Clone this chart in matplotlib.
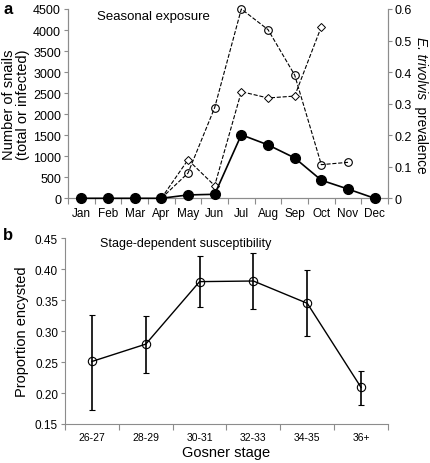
import numpy as np
import matplotlib
matplotlib.use('Agg')
import matplotlib.pyplot as plt

plt.rcParams['font.family'] = ['Liberation Sans', 'DejaVu Sans']

# Panel a data
months = ['Jan', 'Feb', 'Mar', 'Apr', 'May', 'Jun', 'Jul', 'Aug', 'Sep', 'Oct', 'Nov', 'Dec']
infected = [0, 0, 0, 0, 80, 95, 1510, 1270, 960, 430, 220, 0]
total_months = ['Apr', 'May', 'Jun', 'Jul', 'Aug', 'Sep', 'Oct', 'Nov']
total = [0, 600, 2155, 4500, 4010, 2930, 800, 855]
prev_months = ['Apr', 'May', 'Jun', 'Jul', 'Aug', 'Sep', 'Oct']
prevalence = [0, 0.122, 0.040, 0.338, 0.318, 0.324, 0.544]

# Panel b data
stages = ['26-27', '28-29', '30-31', '32-33', '34-35', '36+']
proportion = [0.251, 0.279, 0.380, 0.381, 0.345, 0.209]
err_low = [0.173, 0.232, 0.339, 0.335, 0.292, 0.181]
err_high = [0.326, 0.325, 0.422, 0.426, 0.398, 0.236]

grey = '#8c8c8c'

fig = plt.figure(figsize=(4.30, 4.64), dpi=100)

# ---- panel a ----
ax = fig.add_axes([68/430, 1-199.3/464, 320/430, 189.3/464])
ax2 = ax.twinx()
x = np.arange(len(months))
idx = {m: i for i, m in enumerate(months)}
xt = [idx[m] for m in total_months]
xp = [idx[m] for m in prev_months]

ax.plot(xt, total, ls='--', color='black', lw=0.8, marker='o', ms=5.5,
        mfc='none', mec='black', mew=0.8, zorder=3, clip_on=False)
ax2.plot(xp, prevalence, ls='--', color='black', lw=0.8, marker='D', ms=3.8,
         mfc='white', mec='black', mew=0.7, zorder=3, clip_on=False)
ax.plot(x, infected, ls='-', color='black', lw=1.2, marker='o', ms=7,
        mfc='black', mec='black', zorder=5, clip_on=False)
ax.set_zorder(ax2.get_zorder() + 1)
ax.patch.set_visible(False)

ax.set_xlim(-0.5, 11.5)
ax.set_ylim(0, 4500)
ax.set_yticks(np.arange(0, 4501, 500))
ax2.set_ylim(0, 0.6)
ax2.set_yticks(np.arange(0, 0.61, 0.1))
ax2.set_yticklabels(['0'] + ['%.1f' % v for v in np.arange(0.1, 0.61, 0.1)])
ax.set_xticks(x)
ax.set_xticklabels(months)
ax.set_xticks(np.arange(-0.5, 11.6, 1), minor=True)
ax.tick_params(axis='x', which='major', length=0, labelsize=8.5, pad=6)
ax.tick_params(axis='x', which='minor', length=4, color=grey, width=0.8)
ax.tick_params(axis='y', length=3, color=grey, labelsize=9, pad=2)
ax2.tick_params(axis='y', length=3, color=grey, labelsize=9, pad=2)
for a in (ax, ax2):
    a.spines['top'].set_visible(False)
    for s in ('left', 'right', 'bottom'):
        a.spines[s].set_color(grey)
        a.spines[s].set_linewidth(0.8)
ax.set_ylabel('Number of snails\n(total or infected)', fontsize=10.5, labelpad=2, linespacing=1.0)

# right label: italic species name followed by plain word
t1 = ax2.text(1.103, 0.86, 'E. trivolvis', style='italic', fontsize=9.8,
              rotation=-90, ha='center', va='top', transform=ax2.transAxes)
ax2.annotate('  prevalence', xy=(0.5, 0), xycoords=t1, fontsize=9.8,
             rotation=-90, ha='center', va='top')

ax.text(0.09, 0.965, 'Seasonal exposure', transform=ax.transAxes, fontsize=9.5, va='center')
fig.text(3/430, 1-9/464, 'a', fontsize=12, fontweight='bold', va='center')

# ---- panel b ----
bx = fig.add_axes([65/430, 1-425/464, 323/430, 185.7/464])
xs = np.arange(len(stages))
yerr = [np.array(proportion) - np.array(err_low), np.array(err_high) - np.array(proportion)]
bx.errorbar(xs, proportion, yerr=yerr, color='black', lw=1.0, marker='o', ms=6,
            mfc='none', mec='black', mew=0.8, ecolor='black', elinewidth=1.2,
            capsize=2.5, capthick=1.2)
bx.set_xlim(-0.5, 5.5)
bx.set_ylim(0.15, 0.45)
bx.set_yticks(np.arange(0.15, 0.451, 0.05))
bx.set_yticklabels(['%.2f' % v for v in np.arange(0.15, 0.451, 0.05)])
bx.set_xticks(xs)
bx.set_xticklabels(stages)
bx.set_xticks(np.arange(-0.5, 5.6, 1), minor=True)
bx.tick_params(axis='x', which='major', length=0, labelsize=7.5, pad=6)
bx.tick_params(axis='x', which='minor', length=4, color=grey, width=0.8)
bx.tick_params(axis='y', length=3, color=grey, labelsize=8.5, pad=2)
bx.spines['top'].set_visible(False)
bx.spines['right'].set_visible(False)
for s in ('left', 'bottom'):
    bx.spines[s].set_color(grey)
    bx.spines[s].set_linewidth(0.8)
bx.set_ylabel('Proportion encysted', fontsize=10.5, labelpad=4)
bx.set_xlabel('Gosner stage', fontsize=10.5, labelpad=2)
bx.text(0.108, 0.975, 'Stage-dependent susceptibility', transform=bx.transAxes,
        fontsize=9, va='center')
fig.text(3/430, 1-236/464, 'b', fontsize=12, fontweight='bold', va='center')

fig.savefig('out.png', dpi=100)
